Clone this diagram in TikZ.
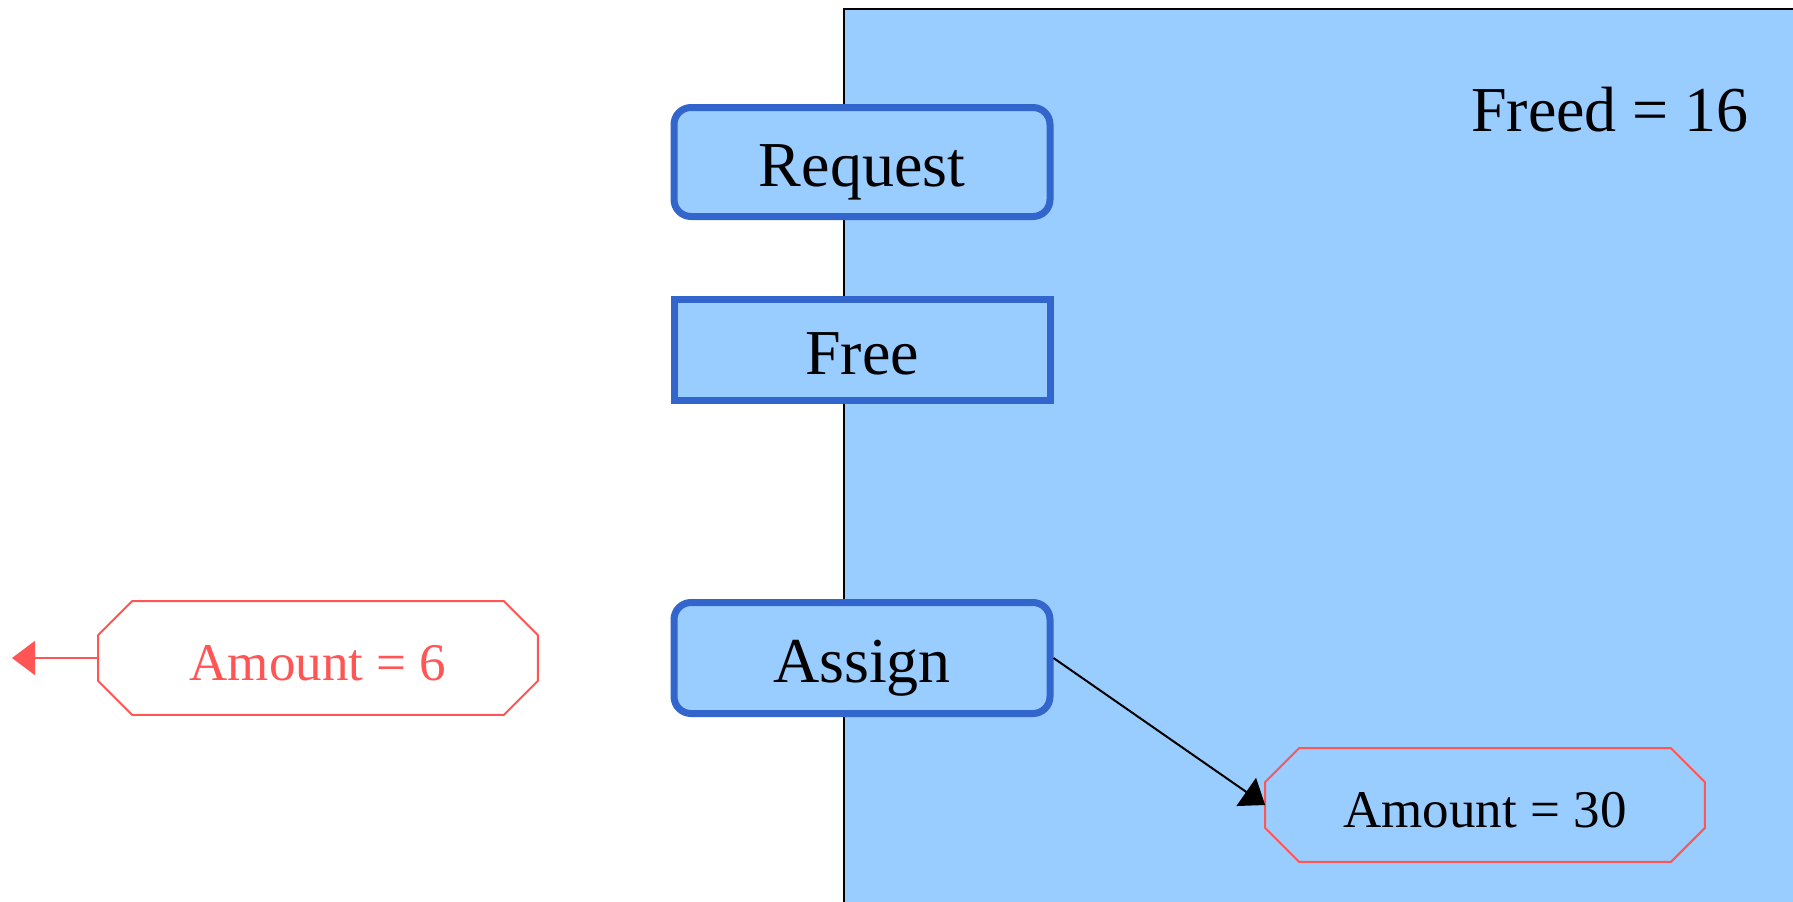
\documentclass[tikz,border=0pt]{standalone}
\usepackage{fontspec}
\setmainfont{Liberation Serif}
\usepackage{tikz}
\usetikzlibrary{arrows.meta, positioning}
\definecolor{panelblue}{HTML}{99CCFF}
\definecolor{edgeblue}{HTML}{3366CC}
\definecolor{amountred}{HTML}{FF5555}
\tikzset{opbox/.style={draw=edgeblue, fill=panelblue, line width=3.5pt, minimum width=188pt, minimum height=54.5pt, text height=24pt, text depth=0pt, font=\fontsize{32}{36}\selectfont}, amountbox/.style={minimum width=219.5pt, minimum height=56.5pt, inner sep=0pt, text height=22.8pt, text depth=0pt, font=\fontsize{26.5}{30}\selectfont}}
\newcommand{\octframe}[1]{
    \draw[amountred, line width=1pt] ([xshift=17pt]#1.north west)--([xshift=-17pt]#1.north east)--([yshift=-17pt]#1.north east)--([yshift=17pt]#1.south east)--([xshift=-17pt]#1.south east)--([xshift=17pt]#1.south west)--([yshift=17pt]#1.south west)--([yshift=-17pt]#1.north west)--cycle;
}

\begin{document}
\begin{tikzpicture}[x=0.5pt, y=-0.5pt]
                 \useasboundingbox (0,0) rectangle (1793,901);
                 \draw[fill=panelblue, line width=1pt] (844,9) rectangle (1820,930);
                 \node[text height=24pt, text depth=0pt] (freed) at (1610,107) {\fontsize{32}{36}\selectfont Freed = 16};

                 \node[opbox, rounded corners=8.5pt] (request) at (862,162) {Request};
                 \node[opbox, minimum height=50.5pt] (free) at (862,350) {Free};
                 \node[opbox, rounded corners=8.5pt, minimum height=55.5pt] (assign) at (862,658) {Assign};

                 \node[amountbox, text=amountred] (amountsix) at (318,658) {Amount = 6};
                 \octframe{amountsix}
                 \node[amountbox] (amountthirty) at (1485,805) {Amount = 30};
                 \octframe{amountthirty}

                 \coordinate (leftend) at (12,658);
                 \draw[amountred, line width=1pt, -{Triangle[length=11.5pt, width=17pt]}] (amountsix.west)--(leftend);
                 \draw[line width=1pt, -{Triangle[length=11.5pt, width=17pt]}] (assign.east)--(amountthirty.west);
             \end{tikzpicture}
\end{document}
